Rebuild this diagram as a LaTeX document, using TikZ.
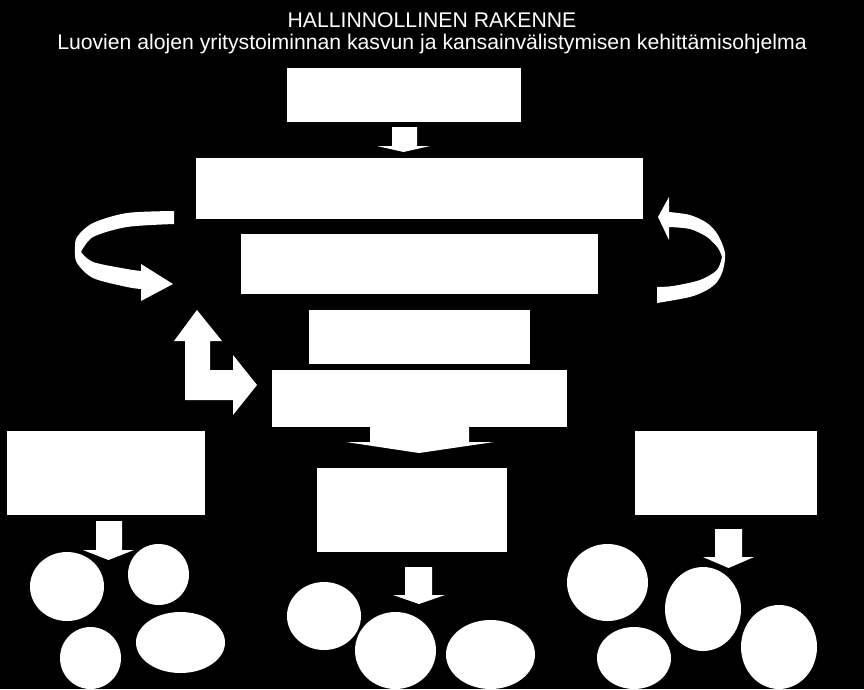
\documentclass[tikz,border=0pt]{standalone}
\usepackage{fontspec}
\setmainfont{Liberation Sans}
\usetikzlibrary{shapes.geometric}
\begin{document}
\begin{tikzpicture}[x=1pt,y=-1pt,
  box/.style={rectangle,fill=white,inner sep=0pt,draw=none},
  oval/.style={ellipse,fill=white,inner sep=0pt,draw=none},
  blockarrow/.style={fill=white},
  title/.style={text=white,font=\fontsize{21.2}{25}\selectfont,anchor=base,inner sep=0pt}]
\fill[black] (0,0) rectangle (864,689);
\useasboundingbox (0,0) rectangle (864,689);
% titles
\node[title] (t1) at (432,27) {HALLINNOLLINEN RAKENNE};
\node[title] (t2) at (432,49) {Luovien alojen yritystoiminnan kasvun ja kansainvälistymisen kehittämisohjelma};
% boxes
\node[box,minimum width=234pt,minimum height=54pt] (b1) at (404,95) {};
\node[box,minimum width=447pt,minimum height=61pt] (b2) at (419.5,188.5) {};
\node[box,minimum width=357pt,minimum height=60pt] (b3) at (419.5,264) {};
\node[box,minimum width=221pt,minimum height=54pt] (b4) at (419.5,337) {};
\node[box,minimum width=295pt,minimum height=57pt] (b5) at (419.5,398.5) {};
\node[box,minimum width=190pt,minimum height=84pt] (b6) at (412,510) {};
\node[box,minimum width=198pt,minimum height=84pt] (bL) at (106,473) {};
\node[box,minimum width=182pt,minimum height=84pt] (bR) at (726,473) {};
% ovals
\node[oval,minimum width=74pt,minimum height=68pt] (c1) at (324,616) {};
\node[oval,minimum width=81pt,minimum height=77pt] (c2) at (395.5,650.5) {};
\node[oval,minimum width=89pt,minimum height=69pt] (c3) at (490.5,654.5) {};
\node[oval,minimum width=74pt,minimum height=69pt] (l1) at (67,586.5) {};
\node[oval,minimum width=61pt,minimum height=61pt] (l2) at (158.5,574.5) {};
\node[oval,minimum width=61pt,minimum height=62pt] (l3) at (90.5,658) {};
\node[oval,minimum width=89pt,minimum height=61pt] (l4) at (180.5,642.5) {};
\node[oval,minimum width=81pt,minimum height=77pt] (r1) at (607.5,582.5) {};
\node[oval,minimum width=76pt,minimum height=84pt] (r2) at (703,609) {};
\node[oval,minimum width=74pt,minimum height=62pt] (r3) at (634,658) {};
\node[oval,minimum width=76pt,minimum height=84pt] (r4) at (779,647) {};
% down block arrows
\fill[blockarrow] (392,127) -- (417,127) -- (417,146) -- (430,146) -- (403.5,152) -- (377,146) -- (392,146) -- cycle;
\fill[blockarrow] (370,426) -- (469,426) -- (469,442) -- (494,442) -- (419,453) -- (346,442) -- (370,442) -- cycle;
\fill[blockarrow] (405,567) -- (432,567) -- (432,595) -- (445,595) -- (419,604) -- (393,595) -- (405,595) -- cycle;
\fill[blockarrow] (96,521) -- (122,521) -- (122,550) -- (134,550) -- (108.5,560) -- (83,550) -- (96,550) -- cycle;
\fill[blockarrow] (715,529) -- (742,529) -- (742,557) -- (754,557) -- (728.5,568) -- (703,557) -- (715,557) -- cycle;
% L-shaped double arrow
\fill[blockarrow] (197,310) -- (222,341) -- (210,341) -- (210,370) -- (233,370) -- (233,355) -- (257,385) -- (233,415) -- (233,400) -- (185,400) -- (185,341) -- (174,341) -- cycle;
% left circular arrow
\fill[blockarrow] plot[smooth] coordinates {(174,211) (127,213) (93,223) (77,237) (75,250) (77,263) (93,278) (127,287) (141,289)}
  -- (141,301) -- (173,284) -- (141,264) -- (141,271)
  -- plot[smooth] coordinates {(141,271) (127,269) (93,262) (81,252)}
  -- plot[smooth] coordinates {(81,252) (93,237) (127,227) (174,224)} -- cycle;
% right circular arrow
\fill[blockarrow] plot[smooth] coordinates {(669,212) (690,215) (707,223) (718,235) (725,253) (723,270) (717,282) (707,290) (690,297) (657,303)}
  -- (657,287)
  -- plot[smooth] coordinates {(657,287) (673,286) (700,280) (717,270) (722,257)}
  -- plot[smooth] coordinates {(722,257) (718,248) (707,237) (690,229) (669,227)}
  -- (669,240) -- (658,217) -- (669,197) -- cycle;
\end{tikzpicture}
\end{document}
